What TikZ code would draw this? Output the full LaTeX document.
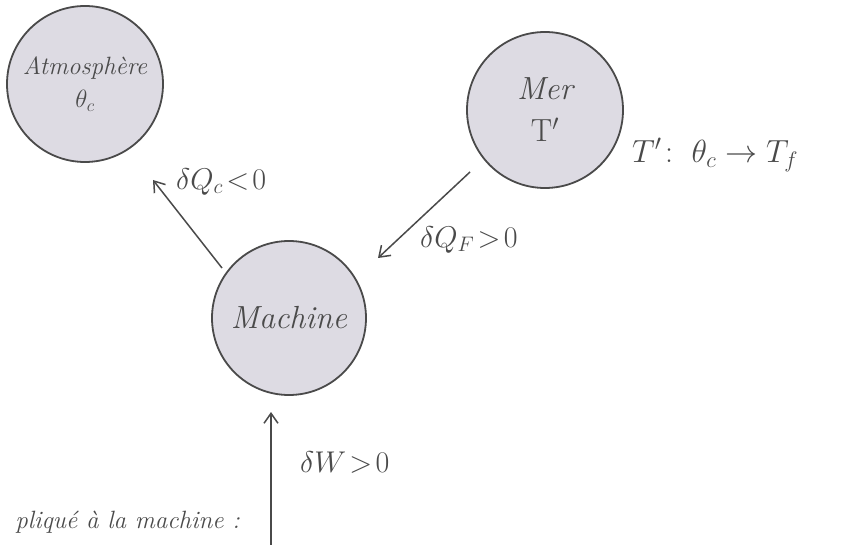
\RequirePackage{fix-cm}
\documentclass[tikz,border=0pt]{standalone}
\usepackage{amsmath}
\usetikzlibrary{arrows.meta}
\definecolor{inkc}{HTML}{4A4A4A}
\definecolor{fillc}{HTML}{DDDBE3}
\tikzset{
  bubble/.style={circle, draw=inkc, line width=1.8pt, fill=fillc, minimum size=#1, inner sep=0pt, align=center, text=inkc},
  flow/.style={draw=inkc, line width=1.5pt, -{Straight Barb[length=10pt,width=14pt,line width=1.5pt]}},
  lbl/.style={text=inkc, font=\fontsize{30}{34}\selectfont, inner sep=0pt}
}
\begin{document}
\begin{tikzpicture}[x=1pt,y=-1pt]
\useasboundingbox (0,0) rectangle (859,545);
\clip (0,0) rectangle (859,545);
\fill[white] (0,0) rectangle (859,545);
\node[bubble=156pt, font=\fontsize{25}{29}\selectfont\itshape] (atm) at (85,84) {Atmosphère\\[4pt]$\theta_c$};
\node[bubble=156pt, font=\fontsize{32}{36}\selectfont\itshape] (mer) at (545,110) {Mer\\[6pt]$\mathrm{T}'$};
\node[bubble=154pt, font=\fontsize{32}{36}\selectfont\itshape] (mac) at (289,318) {Machine};
\coordinate (acA) at (222,268);
\coordinate (acB) at (153,180);
\draw[flow] (acA) -- (acB);
\coordinate (mfA) at (470,172);
\coordinate (mfB) at (378,258);
\draw[flow] (mfA) -- (mfB);
\coordinate (wA) at (271,545);
\coordinate (wB) at (271,412);
\draw[flow] (wA) -- (wB);
\node[lbl, anchor=west] (lqc) at (176,182) {$\delta Q_c\!<\!0$};
\node[lbl, anchor=west] (lqf) at (420,240) {$\delta Q_F\!>\!0$};
\node[lbl, anchor=west] (lw) at (300,462) {$\delta W\!>\!0$};
\node[lbl, anchor=west, font=\fontsize{32}{36}\selectfont] (lt) at (632,155) {$T'\!:\ \theta_c\rightarrow T_f$};
\node[lbl, anchor=east, font=\fontsize{25}{29}\selectfont\itshape] (app) at (240,522) {pliqué à la machine :};
\end{tikzpicture}
\end{document}
